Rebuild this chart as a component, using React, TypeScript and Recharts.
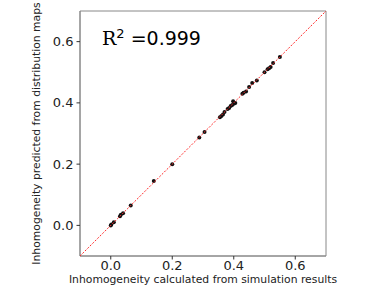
import React from 'react';
import { ScatterChart, Scatter, XAxis, YAxis, ReferenceArea, Label, Customized } from 'recharts';

const simulated = [0.0, 0.002, 0.01, 0.03, 0.033, 0.04, 0.065, 0.14, 0.2, 0.288, 0.305, 0.355, 0.36, 0.365, 0.37, 0.38, 0.385, 0.39, 0.395, 0.398, 0.4, 0.405, 0.428, 0.432, 0.44, 0.45, 0.46, 0.475, 0.5, 0.51, 0.515, 0.52, 0.528, 0.55];
const predicted = [0.0, 0.003, 0.01, 0.03, 0.035, 0.04, 0.065, 0.145, 0.2, 0.287, 0.305, 0.353, 0.357, 0.362, 0.37, 0.38, 0.383, 0.39, 0.393, 0.405, 0.397, 0.4, 0.43, 0.433, 0.437, 0.452, 0.465, 0.473, 0.5, 0.51, 0.513, 0.517, 0.53, 0.55];
const identityLine = [-0.1, 0.7];
const ticks = [0, 0.2, 0.4, 0.6];
const domain: [number, number] = [-0.1, 0.7];
const r2Text = '=0.999';

const data = simulated.map((x, i) => ({ x, y: predicted[i] }));
const lineData = identityLine.map((v) => ({ x: v, y: v }));

const FONT = 'DejaVu Sans, sans-serif';

const R2 = () => (
  <text x={102} y={45} fill="#000" fontSize={19}>
    <tspan fontFamily="DejaVu Serif, serif">R</tspan>
    <tspan fontFamily={FONT} fontSize={13} dy={-7}>2</tspan>
    <tspan fontFamily={FONT} dy={7}> {r2Text}</tspan>
  </text>
);

const Dot = (props: any) => <circle cx={props.cx} cy={props.cy} r={2} fill="#111" />;
const NoDot = () => null;

export default function App() {
  return (
    <div style={{ position: 'absolute', left: 0, top: 0 }}>
      <ScatterChart width={382} height={286} margin={{ top: 11, right: 56, left: 0, bottom: 0 }}>
        <XAxis
          type="number"
          dataKey="x"
          domain={domain}
          ticks={ticks}
          allowDataOverflow
          tickFormatter={(v: number) => v.toFixed(1)}
          height={30}
          tickSize={3.5}
          tickMargin={1}
          axisLine={{ stroke: '#888' }}
          tickLine={{ stroke: '#333' }}
          tick={{ fill: '#222', fontSize: 13, fontFamily: FONT }}
        >
          <Label
            value="Inhomogeneity calculated from simulation results"
            position="insideBottom"
            offset={3}
            style={{ fill: '#222', fontSize: 10.8, fontFamily: FONT }}
          />
        </XAxis>
        <YAxis
          type="number"
          dataKey="y"
          domain={domain}
          ticks={ticks}
          allowDataOverflow
          tickFormatter={(v: number) => v.toFixed(1)}
          width={80}
          tickSize={3.5}
          tickMargin={3}
          axisLine={{ stroke: '#888' }}
          tickLine={{ stroke: '#333' }}
          tick={{ fill: '#222', fontSize: 13, fontFamily: FONT }}
        >
          <Label
            value="Inhomogeneity predicted from distribution maps"
            angle={-90}
            position="insideLeft"
            offset={36}
            style={{ fill: '#222', fontSize: 10.8, fontFamily: FONT, textAnchor: 'middle' }}
          />
        </YAxis>
        <ReferenceArea x1={-0.1} x2={0.7} y1={-0.1} y2={0.7} fill="none" stroke="#888" strokeWidth={1} ifOverflow="visible" />
        <Scatter data={data} fill="#111" shape={Dot} isAnimationActive={false} />
        <Scatter
          data={lineData}
          line={{ stroke: '#ff2a2a', strokeWidth: 1, strokeDasharray: '2 1.5' }}
          shape={NoDot}
          legendType="none"
          isAnimationActive={false}
        />
        <Customized component={R2} />
      </ScatterChart>
    </div>
  );
}
